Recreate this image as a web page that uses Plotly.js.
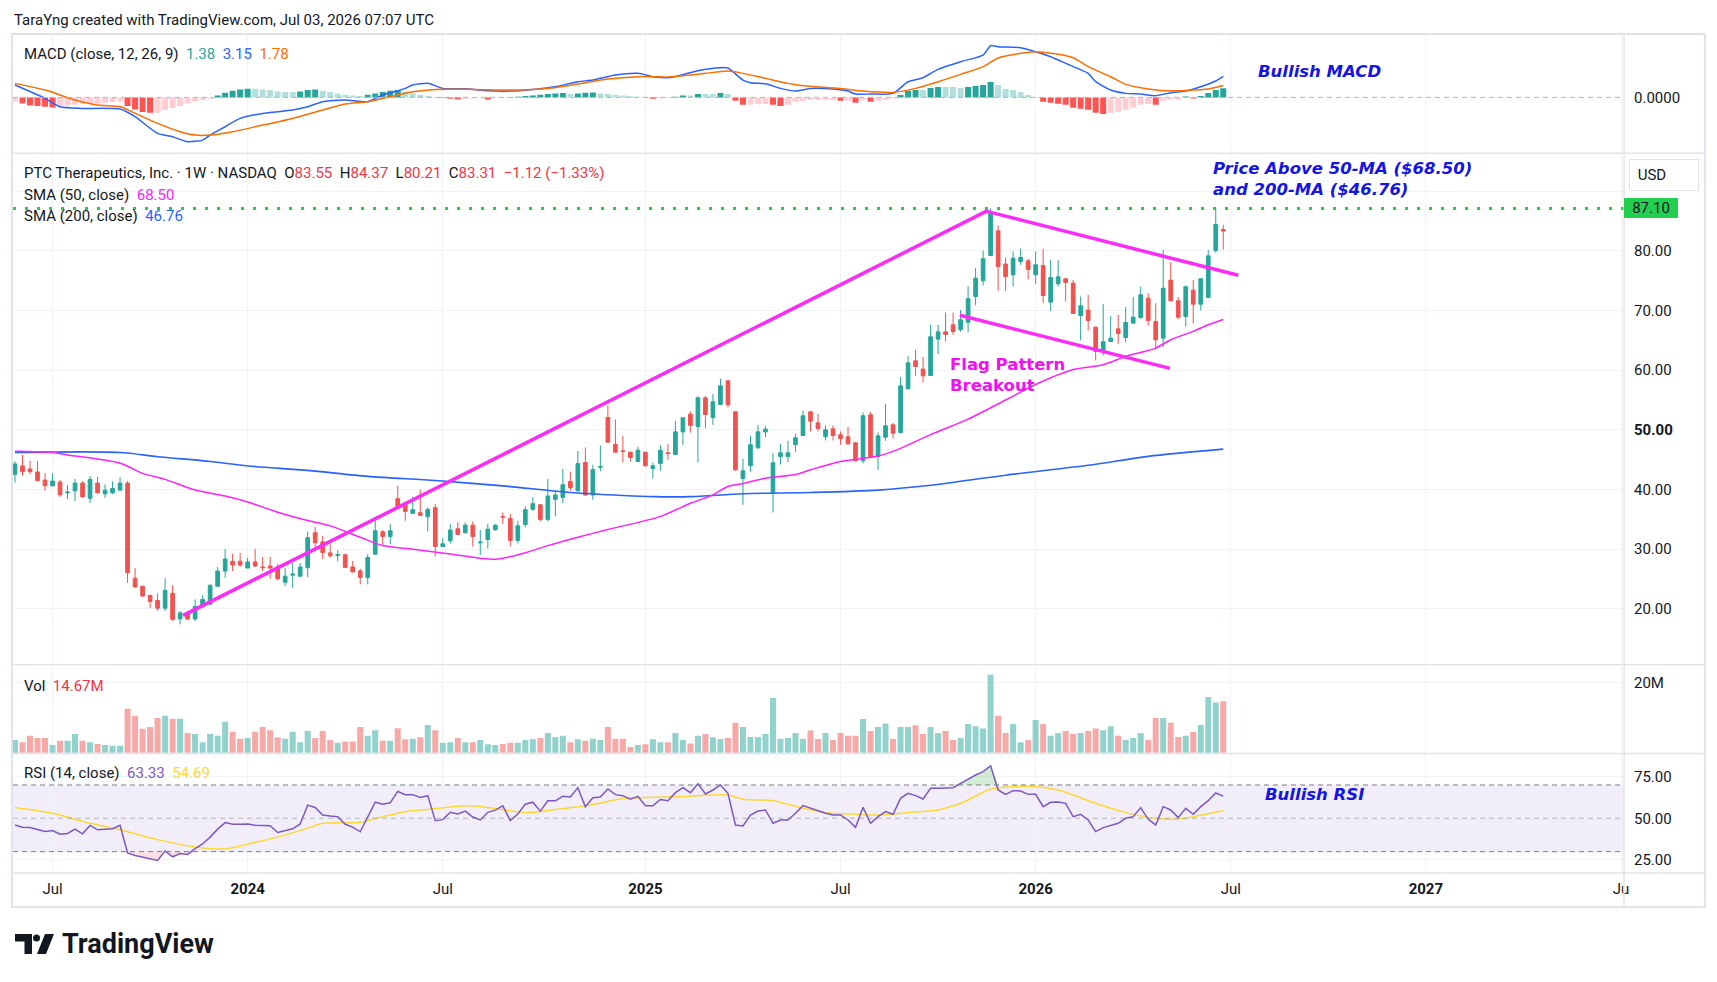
<!DOCTYPE html>
<html><head><meta charset="utf-8">
<script src="https://cdn.plot.ly/plotly-3.0.1.min.js"></script>
<style>html,body{margin:0;padding:0;background:#fff}#chart{width:1717px;height:982px}</style>
</head><body><div id="chart"></div>
<script>
// ---------- DATA (weekly bars, first bar week of 2023-05-29) ----------
const firstWeek = '2023-05-29';
const open  = [42.54,43.95,43.45,42.94,41.58,40.62,41.24,39.44,39.77,41.07,38.53,41.07,39.27,39.44,39.89,41.07,25.14,23.79,22.26,21.41,20.11,22.60,18.30,19.32,18.30,20.34,20.79,23.79,26.33,27.97,27.97,26.84,27.85,27.01,27.18,27.01,24.46,25.65,25.48,26.90,32.75,31.23,29.38,28.94,29.05,27.03,26.36,25.24,29.16,32.91,32.13,38.46,37.73,36.00,36.11,35.43,36.95,30.45,31.40,33.42,32.75,34.03,31.06,31.62,33.25,35.49,35.15,31.46,34.15,36.67,37.45,34.99,38.35,38.68,41.32,39.80,44.51,39.08,43.73,52.07,47.54,46.48,46.26,44.69,46.26,43.52,44.36,46.15,45.87,49.66,52.63,50.56,55.36,52.07,54.25,58.21,53.02,41.84,43.97,46.98,49.66,39.50,45.53,45.53,47.54,49.05,53.02,51.17,48.88,50.17,49.16,48.83,47.82,44.80,52.51,45.53,48.77,50.84,49.55,56.87,61.56,60.17,59.11,65.20,66.42,67.60,66.76,68.04,72.35,74.97,79.22,83.35,77.77,75.98,78.21,78.32,75.98,77.54,71.40,74.47,75.31,74.58,69.16,70.06,67.21,63.24,64.80,66.93,65.47,67.88,68.83,72.07,68.16,65.36,75.08,71.62,68.99,73.41,71.06,72.18,80.06,83.55];
const high  = [44.69,45.82,44.80,44.75,42.71,42.71,41.58,40.73,41.75,41.41,42.26,42.09,40.85,41.36,42.03,41.41,26.84,23.85,22.30,22.60,25.14,23.95,19.66,19.50,21.58,22.26,24.07,27.01,30.06,29.21,29.38,28.53,30.06,28.70,28.70,27.57,26.84,27.68,27.68,32.94,33.75,32.24,30.84,29.83,29.27,28.04,26.75,29.16,35.43,33.19,34.20,40.64,37.80,38.80,39.97,37.00,37.56,31.85,34.20,34.54,34.48,34.65,33.19,34.20,34.20,36.16,35.88,34.76,37.17,38.68,37.50,41.76,39.80,43.45,43.00,46.47,47.03,44.17,47.37,54.09,51.74,49.00,46.30,47.15,46.30,44.53,47.37,47.65,51.51,52.07,53.07,55.59,55.70,55.98,58.55,58.30,53.10,45.14,48.99,50.84,50.67,46.09,47.65,48.16,49.33,53.24,53.10,52.68,50.73,50.73,49.72,50.50,47.90,52.91,52.96,49.55,54.36,51.17,58.83,62.40,63.41,62.23,67.60,67.60,69.66,69.66,70.06,74.08,77.09,80.06,87.10,84.25,78.88,79.89,80.34,78.66,79.89,80.34,78.49,78.44,75.40,75.14,72.35,72.63,67.30,71.12,69.11,69.27,70.61,72.29,74.02,72.91,71.23,80.17,78.10,72.23,74.19,75.08,75.40,80.17,87.10,84.37];
const low   = [41.13,42.32,42.54,41.40,39.77,40.55,38.76,38.42,38.08,38.64,37.74,39.30,38.59,39.21,39.85,24.35,23.50,21.98,20.11,19.66,19.66,17.97,17.40,18.10,17.97,20.30,20.68,23.75,25.20,26.33,27.01,26.80,27.00,26.33,25.03,24.75,23.79,23.50,25.31,25.31,30.00,28.32,28.60,27.93,26.85,26.10,24.12,24.12,29.05,30.73,30.84,37.00,34.76,35.95,35.60,32.97,28.77,30.40,30.95,32.40,32.63,30.45,29.05,30.11,33.10,34.20,30.45,30.95,33.64,36.44,34.65,34.65,35.49,37.67,39.80,39.52,39.00,38.29,43.05,47.90,46.20,44.53,44.69,44.60,43.85,41.84,43.13,44.97,45.80,47.49,49.55,44.53,50.28,50.84,54.20,53.74,43.13,37.43,42.96,46.82,48.77,36.15,44.19,44.53,46.31,49.00,49.72,49.72,48.21,48.21,47.49,47.49,44.69,44.36,45.25,43.30,48.16,48.55,49.50,56.76,59.05,57.93,59.00,62.68,64.80,65.92,66.42,66.31,70.84,74.19,79.20,73.30,73.30,74.02,77.65,75.20,74.47,71.28,69.94,74.02,71.51,69.40,64.97,66.65,61.62,62.46,64.75,64.41,64.64,67.80,68.60,67.49,63.46,63.80,71.50,68.55,67.32,67.82,70.00,72.07,79.72,80.21];
const close = [44.29,42.99,42.99,41.47,40.62,41.41,39.10,39.55,41.07,38.76,41.69,39.44,39.89,40.17,41.07,26.05,23.67,22.15,21.24,20.11,23.11,18.25,19.32,18.30,20.40,21.58,23.95,26.33,28.36,27.34,27.34,27.85,27.18,26.90,26.84,25.03,25.48,25.82,27.01,31.92,31.06,29.44,28.88,29.05,26.92,26.19,25.24,28.60,33.08,32.13,33.08,37.11,36.33,36.61,35.66,36.67,30.45,30.90,33.19,32.46,34.03,32.13,31.18,33.36,34.03,35.38,31.46,33.92,36.61,37.62,34.99,38.91,39.08,40.81,40.31,44.34,39.08,43.33,43.84,47.93,46.25,46.37,45.36,46.59,43.97,43.97,46.59,46.03,49.66,52.01,50.73,55.36,52.57,54.69,57.37,54.19,43.30,43.13,47.49,49.66,50.11,44.47,46.15,46.15,48.66,52.35,51.45,50.22,50.00,49.05,48.55,47.65,44.80,52.35,45.36,48.99,50.67,49.44,57.37,61.23,60.61,59.05,65.59,66.42,65.98,66.48,68.44,71.96,75.42,78.66,86.31,77.37,75.70,78.77,78.88,76.87,77.65,72.51,75.53,75.64,74.69,69.50,70.78,68.32,63.13,64.75,65.36,66.15,67.99,68.88,72.63,68.32,65.08,73.74,71.62,68.88,73.97,71.06,75.31,79.16,84.43,83.31];
const volumeM = [3.6,3.0,4.8,4.2,4.2,2.2,3.4,3.4,5.3,3.4,3.0,2.5,2.2,2.0,2.0,12.5,10.5,6.8,7.3,9.9,10.5,9.7,9.7,5.6,5.3,3.0,5.3,4.8,8.8,6.0,4.0,4.2,6.0,7.3,6.4,4.4,4.0,6.0,3.0,6.2,4.2,6.2,3.6,2.8,3.2,3.2,7.3,4.8,6.4,3.4,3.4,7.0,3.8,4.0,4.4,7.9,6.4,2.8,3.0,4.2,3.0,3.0,3.6,2.4,2.2,2.5,2.8,2.8,3.6,3.8,4.2,5.6,4.4,4.8,3.0,3.8,3.4,4.0,3.6,7.3,4.0,4.0,1.6,2.2,2.4,3.8,3.0,3.0,5.6,3.6,2.6,4.8,5.3,4.4,3.9,4.2,8.5,7.3,4.5,4.5,5.3,15.6,4.0,4.2,5.6,3.9,6.3,3.9,5.6,3.6,5.6,4.8,4.8,9.6,6.2,7.3,8.3,3.9,7.3,7.3,7.8,5.3,7.3,5.6,6.2,3.6,4.2,8.2,7.5,6.9,22.2,10.5,5.6,8.2,3.0,3.6,9.3,8.2,4.8,5.6,6.2,5.3,5.6,6.2,6.9,6.4,7.5,4.8,3.6,4.2,5.6,3.6,9.9,9.9,8.5,4.5,4.8,5.9,7.9,15.9,14.3,14.67];
const rsi = [46.0,44.7,44.5,43.1,42.1,42.7,40.5,40.9,43.5,40.7,45.7,43.1,43.5,43.7,45.8,29.2,27.7,26.7,25.9,24.7,30.4,26.9,28.9,28.3,31.8,34.6,38.7,43.5,47.4,46.4,46.4,46.6,45.8,45.7,45.5,41.5,42.5,43.7,46.6,57.9,56.5,52.0,51.4,51.0,46.4,44.7,41.9,51.0,59.7,58.5,59.3,66.2,64.2,64.2,62.5,63.6,48.6,49.2,53.6,52.6,54.3,50.8,49.0,53.6,54.9,57.5,48.6,52.6,58.5,59.7,54.3,60.5,60.5,63.2,62.8,68.4,56.9,62.3,62.8,67.6,64.2,63.6,61.5,63.2,57.5,57.5,61.3,60.5,65.4,68.4,65.4,70.8,64.6,67.0,70.0,65.0,46.0,45.4,52.0,54.4,55.0,47.0,49.0,49.0,53.0,57.6,56.0,54.6,53.0,52.0,52.0,49.0,44.6,56.6,47.0,51.0,54.0,52.4,62.0,65.0,63.6,61.6,68.0,68.0,68.0,68.4,71.0,73.6,76.0,78.0,81.6,67.0,64.4,66.6,66.4,64.4,64.4,57.0,59.6,59.8,59.0,51.0,52.4,49.0,42.0,44.4,45.6,47.0,50.0,51.0,56.4,49.4,46.0,57.0,55.0,50.4,56.0,52.4,57.0,60.6,65.2,63.33];
const macdHist = [-0.6,-0.9,-1.2,-1.3,-1.4,-1.5,-1.4,-1.2,-1.1,-1.0,-0.9,-0.9,-0.8,-0.7,-0.6,-1.3,-1.8,-2.2,-2.3,-2.3,-1.9,-1.6,-1.3,-0.9,-0.6,-0.4,-0.2,0.3,0.7,1.0,1.2,1.3,1.3,1.2,1.1,0.9,0.8,0.8,0.9,1.1,1.2,1.0,0.8,0.6,0.4,0.3,0.2,0.4,0.6,0.8,1.0,1.1,0.9,0.6,0.4,0.2,-0.05,-0.1,-0.2,-0.3,-0.2,-0.15,-0.1,-0.3,-0.1,-0.05,0.05,0.1,0.2,0.3,0.4,0.5,0.6,0.65,0.5,0.6,0.7,0.75,0.6,0.5,0.4,0.3,0.2,0.1,-0.1,-0.2,-0.2,-0.1,0.1,0.3,0.3,0.5,0.5,0.5,0.65,0.5,-0.5,-1.1,-1.1,-1.0,-1.0,-1.1,-1.3,-1.1,-0.65,-0.5,-0.4,-0.4,-0.4,-0.4,-0.5,-0.5,-0.8,-0.4,-0.65,-0.5,-0.4,-0.15,0.35,1.0,1.1,1.1,1.4,1.55,1.55,1.55,1.4,1.55,1.7,1.85,2.3,1.85,1.25,1.1,0.8,0.35,0.05,-0.65,-0.8,-0.95,-1.1,-1.55,-1.7,-1.85,-2.3,-2.5,-2.3,-2.15,-1.85,-1.55,-1.1,-1.0,-1.1,-0.5,-0.35,-0.35,0.15,-0.15,0.2,0.65,1.1,1.38];
// sampled indicator lines: [bar number, value]
const macdLine = [[1,1.85],[5,-0.15],[7,-1.4],[10,-1.65],[15,-1.75],[17,-2.9],[20,-5.4],[22,-5.9],[24,-6.65],[26,-6.4],[27,-5.65],[29,-4.4],[31,-3.15],[34,-2.4],[38,-1.9],[40,-1.4],[42,-0.65],[45,-0.4],[48,-0.65],[50,0.35],[53,1.35],[54,1.85],[56,2.1],[58,1.35],[61,1.3],[64,1.0],[67,0.95],[70,1.2],[73,1.6],[76,2.35],[78,2.6],[81,3.35],[84,3.6],[86,3.1],[88,2.95],[90,3.4],[92,4.0],[95,4.45],[96,4.4],[98,2.6],[99,2.2],[101,2.05],[103,1.35],[105,0.95],[107,1.35],[110,1.25],[112,0.95],[113,0.5],[115,0.5],[118,0.6],[120,2.35],[122,2.95],[124,4.2],[127,5.35],[130,6.35],[131,7.75],[132,7.6],[135,7.45],[137,6.85],[139,6.1],[141,5.1],[144,3.6],[145,2.35],[147,1.1],[149,0.6],[151,0.5],[153,0.25],[155,0.7],[157,0.95],[159,1.6],[161,2.45],[162,3.15]];
const signalLine = [[1,2.1],[5,1.1],[9,-0.4],[12,-1.15],[15,-1.4],[17,-2.4],[20,-3.9],[23,-5.15],[25,-5.65],[27,-5.65],[30,-5.15],[34,-4.15],[38,-3.15],[42,-1.9],[45,-1.0],[48,-0.65],[51,0.1],[54,0.85],[57,1.2],[62,1.2],[67,1.1],[72,1.35],[76,2.0],[80,2.75],[84,3.1],[86,3.1],[88,3.05],[91,3.35],[93,3.6],[96,3.95],[98,3.6],[101,2.85],[104,2.1],[106,1.75],[111,1.35],[114,0.95],[118,0.75],[121,1.35],[124,2.35],[127,3.45],[130,4.6],[132,5.9],[135,6.6],[137,6.85],[140,6.45],[142,5.95],[144,4.6],[147,3.1],[149,1.95],[152,1.25],[154,1.0],[157,1.05],[160,1.25],[162,1.78]];
const sma50 = [[1,46.4],[6,46.2],[8,45.8],[15,44.4],[18,42.7],[21,41.7],[25,39.9],[29,38.9],[32,37.9],[36,36.2],[40,34.8],[43,33.9],[47,32.0],[50,30.6],[54,30.0],[59,29.2],[65,28.3],[69,29.4],[72,30.6],[76,32.0],[80,33.3],[87,35.5],[91,37.7],[94,39.1],[96,40.5],[98,41.0],[101,41.9],[105,42.5],[107,43.3],[111,44.7],[116,45.6],[119,46.9],[123,49.2],[128,51.8],[133,55.0],[137,57.6],[142,60.1],[146,60.9],[149,62.3],[153,63.7],[155,65.1],[158,66.5],[160,67.6],[162,68.5]];
const sma200 = [[1,46.2],[15,46.2],[20,45.5],[27,44.7],[32,43.95],[40,43.2],[48,42.2],[57,41.5],[66,40.6],[75,39.5],[82,39.0],[86,38.8],[91,38.8],[98,39.3],[107,39.5],[116,39.9],[123,40.7],[133,42.4],[144,44.05],[152,45.55],[162,46.76]];
const rsiMA = [[1,56.5],[6,53.0],[11,47.0],[15,43.1],[20,37.2],[25,32.8],[29,31.6],[33,35.6],[36,38.7],[40,44.1],[42,47.0],[47,47.6],[50,51.0],[53,54.0],[56,55.3],[61,57.5],[64,56.5],[69,53.4],[73,55.3],[78,58.3],[82,61.9],[85,62.5],[90,63.0],[96,64.0],[98,61.4],[102,60.6],[106,56.0],[109,53.4],[113,52.4],[116,52.0],[120,53.4],[124,55.0],[127,59.0],[131,67.4],[134,69.0],[137,69.0],[140,67.0],[145,59.0],[149,53.4],[153,50.0],[156,49.6],[158,51.0],[162,54.69]];
// drawn trendlines: [bar number, price]
const riseLine = [[23.4,18.9],[130.4,86.6]];
const flagTop  = [[130.2,86.7],[164.0,75.9]];
const flagBot  = [[126.9,69.2],[154.9,60.3]];
const resistance = 87.10;
const xTickDates = ['2023-07-03','2024-01-01','2024-07-01','2025-01-06','2025-07-07','2026-01-05','2026-07-06','2027-01-04','2027-07-05'];
const xTickText  = ['Jul','<b>2024</b>','Jul','<b>2025</b>','Jul','<b>2026</b>','Jul','<b>2027</b>','Ju'];
const priceTicks = [20,30,40,50,60,70,80,90];
const priceTickText = ['20.00','30.00','40.00','<b>50.00</b>','60.00','70.00','80.00',''];

// ---------- helpers ----------
const DAY = 864e5;
const t0 = Date.parse(firstWeek + 'T00:00:00Z');
const iso = ms => new Date(ms).toISOString().replace('T',' ').slice(0,19);
const barX = b => iso(t0 + (b-1)*7*DAY);
const dates = open.map((_,i)=>barX(i+1));
const xs = arr => arr.map(p=>barX(p[0]));
const ys = arr => arr.map(p=>p[1]);
const UP='#26a69a', DN='#ef5350';
const upDown = close.map((c,i)=> c>=open[i]);

// pixel -> paper helpers (plot area 13..1624 x, 34..873 y)
const PX = px => (px-13)/1611, PY = py => (873-py)/839;

const histColors = macdHist.map((h,i)=>{
  const prev = i>0 ? macdHist[i-1] : h;
  if (h>=0) return h>prev ? '#26a69a' : '#b2dfdb';
  return h<prev ? '#ff5252' : '#ffcdd2';
});

const traces = [
  {type:'bar', x:dates, y:macdHist, xaxis:'x', yaxis:'y', marker:{color:histColors, line:{width:0}}},
  {type:'scatter', mode:'lines', x:xs(macdLine), y:ys(macdLine), xaxis:'x', yaxis:'y', line:{color:'#2962ff', width:1.5, shape:'spline', smoothing:0.6}},
  {type:'scatter', mode:'lines', x:xs(signalLine), y:ys(signalLine), xaxis:'x', yaxis:'y', line:{color:'#ff6d00', width:1.5, shape:'spline', smoothing:0.8}},

  {type:'scatter', mode:'lines', x:xs(sma200), y:ys(sma200), xaxis:'x', yaxis:'y2', line:{color:'#2962ff', width:1.6, shape:'spline', smoothing:0.8}},
  {type:'scatter', mode:'lines', x:xs(sma50), y:ys(sma50), xaxis:'x', yaxis:'y2', line:{color:'#ff22ff', width:1.5, shape:'spline', smoothing:0.8}},
  {type:'candlestick', x:dates, open, high, low, close, xaxis:'x', yaxis:'y2', whiskerwidth:0,
    increasing:{line:{color:UP,width:1}, fillcolor:UP}, decreasing:{line:{color:DN,width:1}, fillcolor:DN}},
  {type:'scatter', mode:'lines', x:xs(riseLine), y:ys(riseLine), xaxis:'x', yaxis:'y2', line:{color:'#fb2cf6', width:3.5}},
  {type:'scatter', mode:'lines', x:xs(flagTop), y:ys(flagTop), xaxis:'x', yaxis:'y2', line:{color:'#fb2cf6', width:3.5}},
  {type:'scatter', mode:'lines', x:xs(flagBot), y:ys(flagBot), xaxis:'x', yaxis:'y2', line:{color:'#fb2cf6', width:3.5}},

  {type:'bar', x:dates, y:volumeM, xaxis:'x', yaxis:'y3', marker:{color:upDown.map(u=>u?'rgba(38,166,154,0.5)':'rgba(239,83,80,0.5)'), line:{width:0}}},

  {type:'scatter', mode:'lines', x:dates, y:dates.map(()=>70), xaxis:'x', yaxis:'y4', line:{width:0}},
  {type:'scatter', mode:'lines', x:dates, y:rsi.map(v=>Math.max(v,70)), xaxis:'x', yaxis:'y4', line:{width:0}, fill:'tonexty', fillcolor:'rgba(76,175,80,0.25)'},
  {type:'scatter', mode:'lines', x:dates, y:dates.map(()=>30), xaxis:'x', yaxis:'y4', line:{width:0}},
  {type:'scatter', mode:'lines', x:dates, y:rsi.map(v=>Math.min(v,30)), xaxis:'x', yaxis:'y4', line:{width:0}, fill:'tonexty', fillcolor:'rgba(242,54,69,0.15)'},
  {type:'scatter', mode:'lines', x:xs(rsiMA), y:ys(rsiMA), xaxis:'x', yaxis:'y4', line:{color:'#fdd835', width:1.5, shape:'spline', smoothing:0.8}},
  {type:'scatter', mode:'lines', x:dates, y:rsi, xaxis:'x', yaxis:'y4', line:{color:'#7e57c2', width:1.5}},
];

const GRID = '#f0f3fa', SEP = '#e0e3eb', TXT = '#131722';
const tickFont = {family:'Roboto', size:15, color:TXT};
const yBase = {side:'right', anchor:'x', ticks:'', showline:false, zeroline:false, gridcolor:GRID, tickfont:tickFont, ticklabelstandoff:9, fixedrange:true};

const shapes = [
  {type:'rect', xref:'paper', yref:'y4', x0:0, x1:1, y0:30, y1:70, fillcolor:'rgba(126,87,194,0.1)', line:{width:0}, layer:'below'},
  {type:'line', xref:'paper', yref:'y4', x0:0, x1:1, y0:70, y1:70, line:{color:'#787b86', width:1, dash:'5px,4px'}},
  {type:'line', xref:'paper', yref:'y4', x0:0, x1:1, y0:50, y1:50, line:{color:'rgba(120,123,134,0.5)', width:1, dash:'5px,4px'}},
  {type:'line', xref:'paper', yref:'y4', x0:0, x1:1, y0:30, y1:30, line:{color:'#787b86', width:1, dash:'5px,4px'}},
  {type:'line', xref:'paper', yref:'y', x0:0, x1:1, y0:0, y1:0, line:{color:'#b2b5be', width:1, dash:'5px,4px'}},
  {type:'line', xref:'paper', yref:'y2', x0:0, x1:1, y0:resistance, y1:resistance, line:{color:'#22cf4f', width:3, dash:'3px,9px'}},
  // frame and separators
  {type:'rect', xref:'paper', yref:'paper', x0:PX(12), x1:PX(1705), y0:PY(907), y1:PY(34), line:{color:SEP, width:2}},
  {type:'line', xref:'paper', yref:'paper', x0:PX(12), x1:PX(1705), y0:PY(153.3), y1:PY(153.3), line:{color:SEP, width:1.5}},
  {type:'line', xref:'paper', yref:'paper', x0:PX(12), x1:PX(1705), y0:PY(664.7), y1:PY(664.7), line:{color:SEP, width:1.5}},
  {type:'line', xref:'paper', yref:'paper', x0:PX(12), x1:PX(1705), y0:PY(753.4), y1:PY(753.4), line:{color:SEP, width:1.5}},
  {type:'line', xref:'paper', yref:'paper', x0:PX(12), x1:PX(1705), y0:PY(873), y1:PY(873), line:{color:SEP, width:1.5}},
  {type:'line', xref:'paper', yref:'paper', x0:PX(1624), x1:PX(1624), y0:PY(34), y1:PY(907), line:{color:SEP, width:1.5}},
  // TradingView logo
  {type:'path', xref:'paper', yref:'paper', fillcolor:TXT, line:{width:0},
   path:`M ${PX(15)} ${PY(934)} L ${PX(32)} ${PY(934)} L ${PX(32)} ${PY(954)} L ${PX(24.5)} ${PY(954)} L ${PX(24.5)} ${PY(941.5)} L ${PX(15)} ${PY(941.5)} Z`},
  {type:'circle', xref:'paper', yref:'paper', fillcolor:TXT, line:{width:0}, x0:PX(33), x1:PX(40), y0:PY(941.5), y1:PY(934.5)},
  {type:'path', xref:'paper', yref:'paper', fillcolor:TXT, line:{width:0},
   path:`M ${PX(45)} ${PY(934)} L ${PX(54)} ${PY(934)} L ${PX(46)} ${PY(954)} L ${PX(37)} ${PY(954)} Z`},
];

const S = (c,t)=>`<span style="color:${c}">${t}</span>`;
const NB = '\u00a0\u00a0';
const legendFont = {family:'Roboto', size:15, color:TXT};
const A = (px,py,text,extra={}) => Object.assign({xref:'paper', yref:'paper', x:PX(px), y:PY(py), text, showarrow:false, xanchor:'left', yanchor:'middle', font:legendFont}, extra);
const RED='#f23645';
const noteFont = {family:'DejaVu Sans', size:16.5, color:'#1414e6', weight:'bold', style:'italic'};

const annotations = [
  A(12,20,'TaraYng created with TradingView.com, Jul 03, 2026 07:07 UTC', {font:{family:'Roboto', size:15, color:TXT}}),
  A(22,53.6,'MACD (close, 12, 26, 9)'+NB+S('#26a69a','1.38')+NB+S('#2962ff','3.15')+NB+S('#ff6d00','1.78')),
  A(22,173,'PTC Therapeutics, Inc. · 1W · NASDAQ'+NB+'O'+S(RED,'83.55')+NB+'H'+S(RED,'84.37')+NB+'L'+S(RED,'80.21')+NB+'C'+S(RED,'83.31')+NB+S(RED,'−1.12 (−1.33%)')),
  A(22,195,'SMA (50, close)'+NB+S('#ff22ff','68.50')),
  A(22,215.7,'SMA (200, close)'+NB+S('#2962ff','46.76')),
  A(22,685.5,'Vol'+NB+S(RED,'14.67M')),
  A(22,773,'RSI (14, close)'+NB+S('#7e57c2','63.33')+NB+S('#fdd835','54.69')),
  A(1256,72,'Bullish MACD', {font:noteFont}),
  A(1211,178.5,'Price Above 50-MA ($68.50)<br>and 200-MA ($46.76)', {font:noteFont, align:'left'}),
  A(1262.5,794,'Bullish RSI', {font:noteFont}),
  A(948,375.2,'Flag Pattern<br>Breakout', {font:{family:'DejaVu Sans', size:16.5, color:'#f010f0', weight:600}, align:'left'}),
  // price scale badges
  {xref:'paper', yref:'y2', x:1, y:resistance, xanchor:'left', yanchor:'middle', text:'87.10', showarrow:false,
   bgcolor:'#22cf4f', font:{family:'Roboto', size:15, color:TXT}, width:50, height:16, borderpad:2, borderwidth:0, align:'center'},
  {xref:'paper', yref:'paper', x:PX(1629), y:PY(175), xanchor:'left', yanchor:'middle', text:'\u00a0USD', showarrow:false,
   bgcolor:'#ffffff', bordercolor:SEP, borderwidth:1, borderpad:4, width:60, height:22, align:'left', font:{family:'Roboto', size:15, color:TXT}},
  A(60,944,'TradingView', {font:{family:'Roboto', size:27, color:TXT, weight:'bold'}}),
];

const layout = {
  width:1717, height:982, margin:{l:13, r:93, t:34, b:109},
  paper_bgcolor:'#ffffff', plot_bgcolor:'#ffffff',
  showlegend:false, hovermode:false, barmode:'overlay', bargap:0.2,
  xaxis:{type:'date', anchor:'y4', range:[iso(t0-1.87*DAY), iso(t0+1500.8*DAY)],
    tickvals:xTickDates, ticktext:xTickText, ticks:'', showline:false, zeroline:false,
    showgrid:true, gridcolor:GRID, tickfont:tickFont, ticklabelstandoff:5, rangeslider:{visible:false}, fixedrange:true},
  yaxis:Object.assign({}, yBase, {domain:[0.85781,1], range:[-8.38,9.5], tickvals:[0], ticktext:['0.0000'], showgrid:false}),
  yaxis2:Object.assign({}, yBase, {domain:[0.24827,0.85781], range:[10.64,96.34], tickvals:priceTicks, ticktext:priceTickText, showgrid:true}),
  yaxis3:Object.assign({}, yBase, {domain:[0.14255,0.24827], range:[-0.2,25.07], tickvals:[20], ticktext:['20M'], showgrid:true}),
  yaxis4:Object.assign({}, yBase, {domain:[0,0.14255], range:[17.17,88.96], tickvals:[25,50,75], ticktext:['25.00','50.00','75.00'], showgrid:true}),
  shapes, annotations,
};

Plotly.newPlot('chart', traces, layout, {displayModeBar:false, staticPlot:true});
</script>
</body></html>
